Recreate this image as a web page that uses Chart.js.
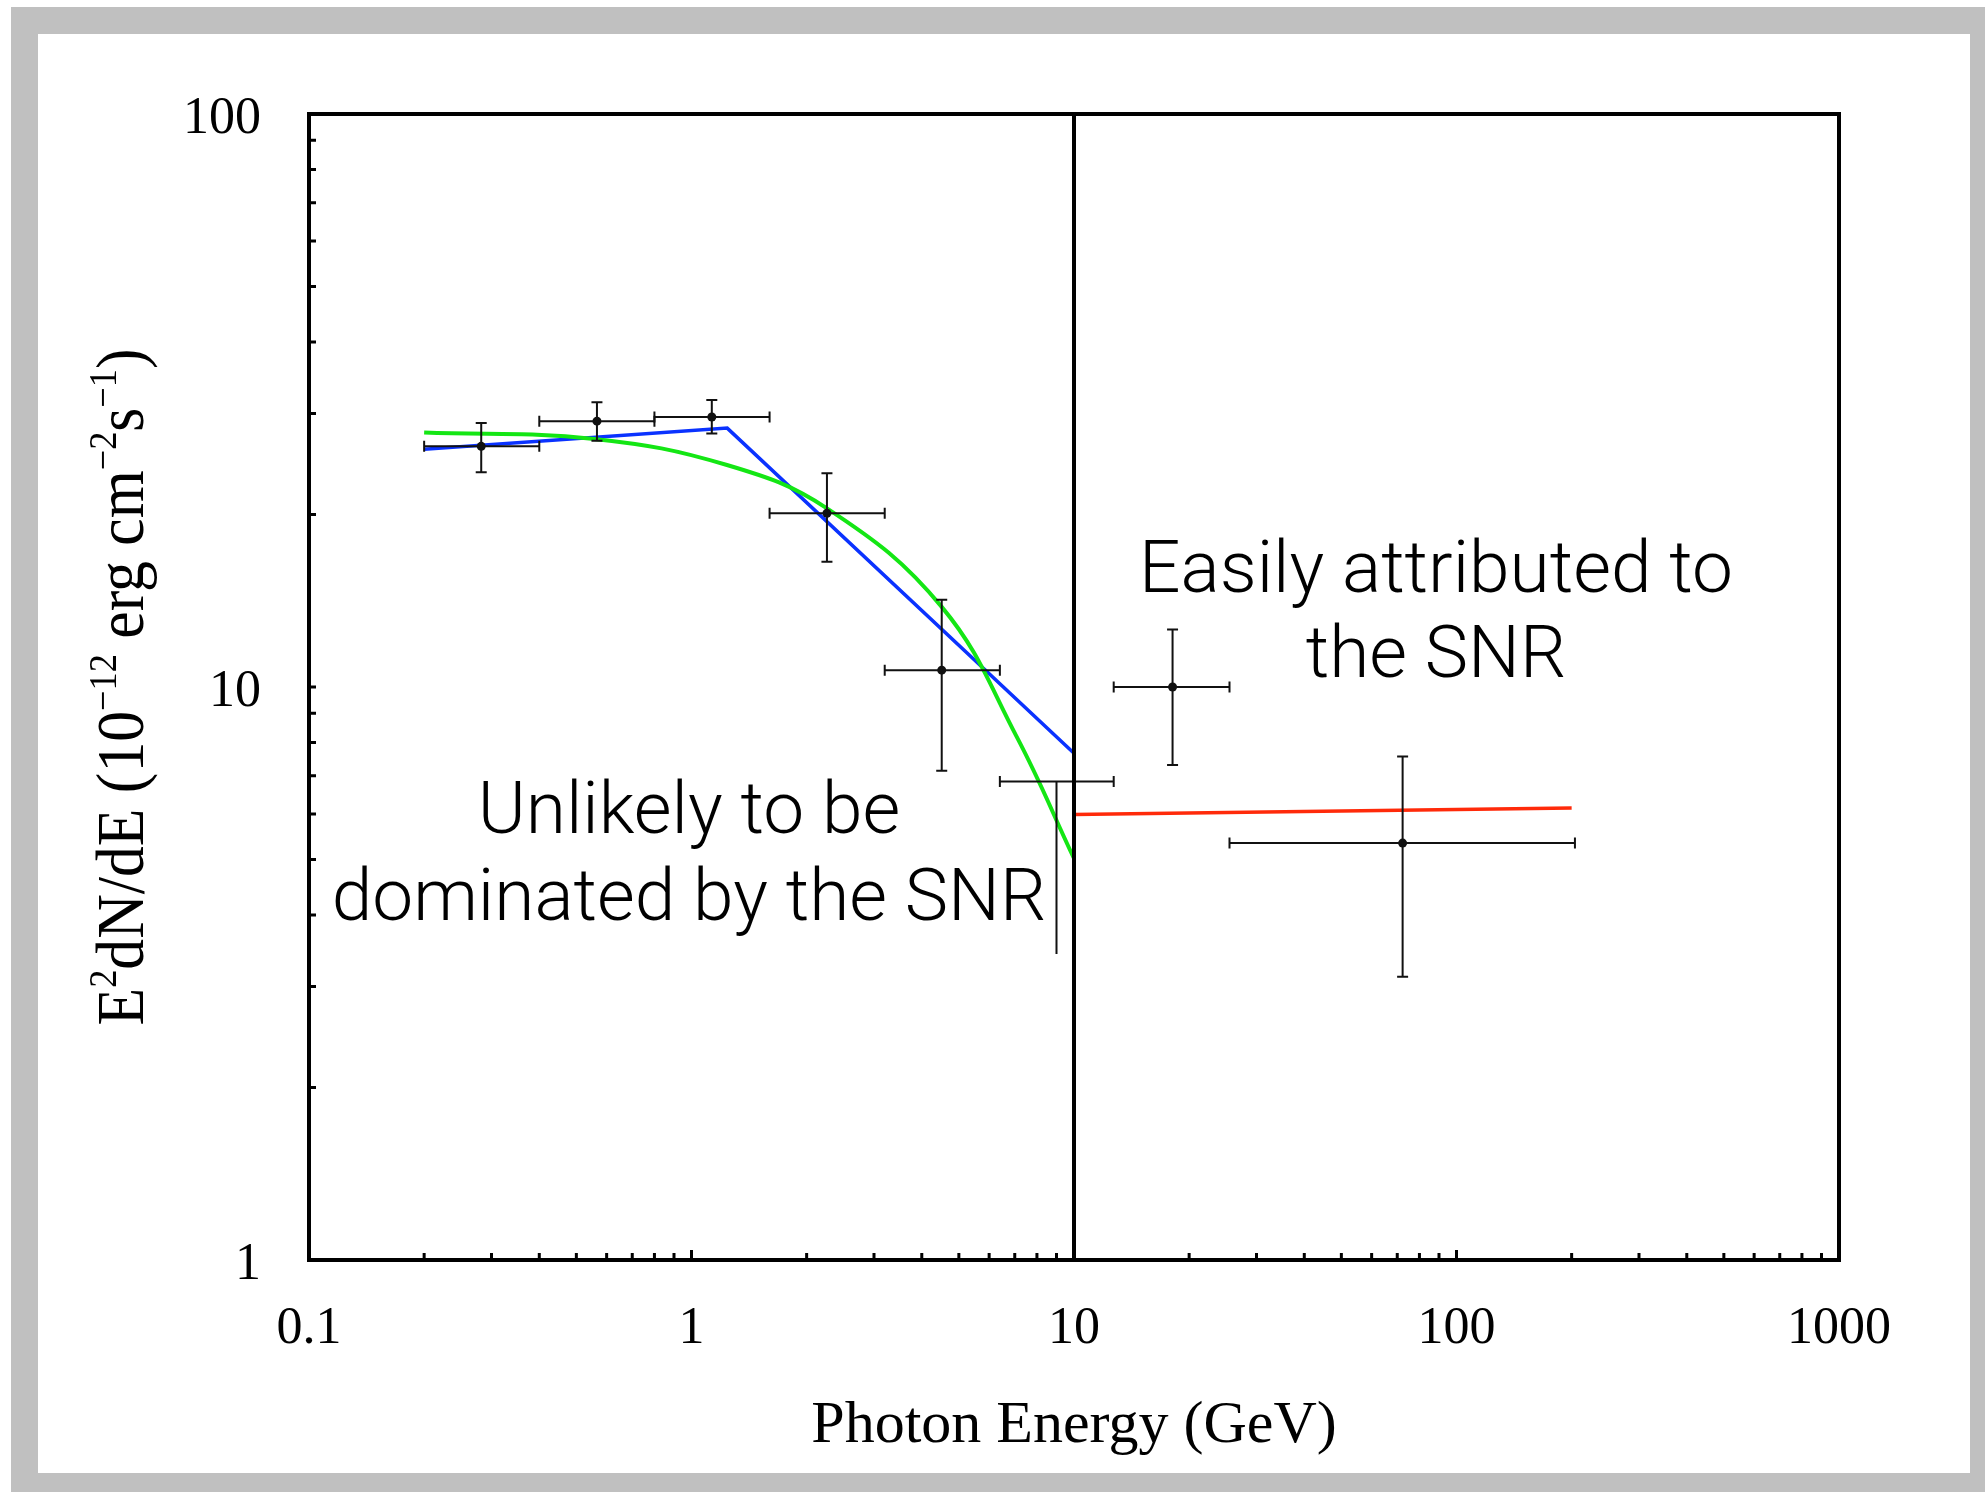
<!DOCTYPE html>
<html>
<head>
<meta charset="utf-8">
<title>Spectrum</title>
<script src="https://cdn.jsdelivr.net/npm/chart.js@4.4.1/dist/chart.umd.min.js"></script>
<style>
  html, body { margin: 0; padding: 0; background: #fff; }
  body { width: 1985px; height: 1492px; position: relative; overflow: hidden; }
  #frame { position: absolute; left: 11px; top: 7px; right: 0; bottom: 0; background: #c0c0c0; }
  #panel { position: absolute; left: 38px; top: 34px; width: 1932px; height: 1439px; background: #fff; }
  canvas { display: block; }
</style>
</head>
<body>
<div id="frame"></div>
<div id="panel"><canvas id="spectrum" width="1932" height="1439"></canvas></div>
<script>
// Fermi-LAT style SED points (GeV, 1e-12 erg cm^-2 s^-1)
const pointE = [0.282, 0.566, 1.13, 2.26, 4.51, 9.0, 18.1, 72.3];
const pointF = [26.3, 29.1, 29.6, 20.1, 10.7, 6.84, 10.0, 5.34];
const eLow   = [0.2, 0.4, 0.8, 1.6, 3.2, 6.4, 12.7, 25.5];
const eHigh  = [0.4, 0.8, 1.6, 3.2, 6.4, 12.7, 25.5, 204];
const fLow   = [23.7, 26.9, 27.7, 16.55, 7.14, 3.42, 7.31, 3.12];
const fHigh  = [28.9, 31.4, 31.7, 23.6, 14.2, 6.84, 12.6, 7.56];
// last-but-two bin: no marker, no upper error
const isLimit = [false, false, false, false, false, true, false, false];

// broken power law (blue)
const brokenE = [0.2, 1.24, 10];
const brokenF = [26.0, 28.3, 7.66];

// curved model (green)
const curvedE = [0.2, 0.557, 1.238, 2.26, 4.51, 7.08, 10];
const curvedF = [27.8, 27.1, 24.4, 20.5, 13.8, 8.19, 5.02];

// high-energy power law (red)
const highE = [10, 200];
const highF = [5.99, 6.15];

const xTickValues = [0.1, 1, 10, 100, 1000];
const xTickLabels = ["0.1", "1", "10", "100", "1000"];
const yTickValues = [1, 10, 100];
const yTickLabels = ["1", "10", "100"];

const splitE = 10;
const lowNote = ["Unlikely to be", "dominated by the SNR"];
const highNote = ["Easily attributed to", "the SNR"];

const serif = "'Liberation Serif', 'Times New Roman', serif";
const sans = "Roboto, 'Open Sans', Lato, sans-serif";

const xy = (xs, ys) => xs.map((v, i) => ({ x: v, y: ys[i] }));

function minorValues(min, max) {
    const out = [];
    for (let d = min; d < max; d *= 10) {
        for (let m = 1; m < 10; m++) out.push({ v: +(m * d).toPrecision(3), major: m === 1 });
    }
    return out;
}

const errorBars = {
    id: "errorBars",
    afterDatasetsDraw(chart) {
        const { ctx, scales: { x, y } } = chart;
        const cap = 5.5;
        ctx.save();
        ctx.strokeStyle = "#111";
        ctx.lineWidth = 2;
        pointE.forEach((e, i) => {
            const px = x.getPixelForValue(e);
            const py = y.getPixelForValue(pointF[i]);
            const xl = x.getPixelForValue(eLow[i]);
            const xh = x.getPixelForValue(eHigh[i]);
            const yl = y.getPixelForValue(fLow[i]);
            const yh = y.getPixelForValue(fHigh[i]);
            ctx.beginPath();
            ctx.moveTo(xl, py); ctx.lineTo(xh, py);
            ctx.moveTo(xl, py - cap); ctx.lineTo(xl, py + cap);
            ctx.moveTo(xh, py - cap); ctx.lineTo(xh, py + cap);
            ctx.moveTo(px, yh); ctx.lineTo(px, yl);
            if (!isLimit[i]) {
                ctx.moveTo(px - cap, yh); ctx.lineTo(px + cap, yh);
                ctx.moveTo(px - cap, yl); ctx.lineTo(px + cap, yl);
            }
            ctx.stroke();
        });
        ctx.restore();
    }
};

const frameAndNotes = {
    id: "frameAndNotes",
    afterDraw(chart) {
        const { ctx, chartArea: a, scales: { x, y } } = chart;
        ctx.save();

        // divider at 10 GeV
        const xs = x.getPixelForValue(splitE);
        ctx.strokeStyle = "#000";
        ctx.lineWidth = 4;
        ctx.beginPath();
        ctx.moveTo(xs, a.top); ctx.lineTo(xs, a.bottom);
        ctx.stroke();

        // box
        ctx.strokeRect(a.left, a.top, a.right - a.left, a.bottom - a.top);

        // inward minor ticks, bottom and left only
        ctx.lineWidth = 3;
        ctx.beginPath();
        minorValues(0.1, 1000).forEach(t => {
            if (t.v <= 0.1) return;
            const px = x.getPixelForValue(t.v);
            ctx.moveTo(px, a.bottom);
            ctx.lineTo(px, a.bottom - (t.major ? 10 : 7));
        });
        minorValues(1, 100).forEach(t => {
            if (t.v <= 1) return;
            const py = y.getPixelForValue(t.v);
            ctx.moveTo(a.left, py);
            ctx.lineTo(a.left + 7, py);
        });
        ctx.stroke();

        // region notes
        ctx.fillStyle = "#000";
        ctx.textAlign = "center";
        ctx.textBaseline = "alphabetic";
        ctx.font = "300 73px " + sans;
        ctx.fillText(lowNote[0], 651, 799);
        ctx.fillText(lowNote[1], 651, 886);
        ctx.fillText(highNote[0], 1398, 558);
        ctx.fillText(highNote[1], 1398, 643);

        // y axis title with superscripts
        const parts = [["E", 0], ["2", 1], ["dN/dE (10", 0], ["\u221212", 1], [" erg cm", 0],
                       ["\u22122", 1], ["s", 0], ["\u22121", 1], [")", 0]];
        const big = "68px " + serif, small = "40px " + serif;
        let total = 0;
        parts.forEach(p => { ctx.font = p[1] ? small : big; total += ctx.measureText(p[0]).width; });
        const sx = 677 / total;
        ctx.translate(105, (a.top + a.bottom) / 2);
        ctx.rotate(-Math.PI / 2);
        ctx.scale(sx, 1);
        ctx.textAlign = "left";
        let cx = -total / 2;
        parts.forEach(p => {
            ctx.font = p[1] ? small : big;
            ctx.fillText(p[0], cx, p[1] ? -27 : 0);
            cx += ctx.measureText(p[0]).width;
        });
        ctx.restore();
    }
};

new Chart(document.getElementById("spectrum"), {
    type: "scatter",
    data: {
        datasets: [
            {
                label: "Data",
                data: xy(pointE, pointF),
                showLine: false,
                pointRadius: isLimit.map(l => (l ? 0 : 4.5)),
                pointBackgroundColor: "#111",
                pointBorderWidth: 0,
                order: 0,
            },
            {
                label: "Curved",
                data: xy(curvedE, curvedF),
                showLine: true,
                borderColor: "#14e614",
                borderWidth: 4,
                pointRadius: 0,
                tension: 0.4,
                order: 1,
            },
            {
                label: "Broken power law",
                data: xy(brokenE, brokenF),
                showLine: true,
                borderColor: "#0a32ff",
                borderWidth: 3.5,
                pointRadius: 0,
                tension: 0,
                order: 2,
            },
            {
                label: "Power law",
                data: xy(highE, highF),
                showLine: true,
                borderColor: "#ff2a0a",
                borderWidth: 3.5,
                pointRadius: 0,
                tension: 0,
                order: 2,
            },
        ],
    },
    options: {
        responsive: false,
        animation: false,
        layout: { padding: { top: 80, right: 131, left: 0, bottom: 0 } },
        plugins: {
            legend: { display: false },
            tooltip: { enabled: false },
        },
        scales: {
            x: {
                type: "logarithmic",
                position: "bottom",
                min: 0.1,
                max: 1000,
                afterBuildTicks: s => { s.ticks = xTickValues.map(v => ({ value: v })); },
                afterFit: s => { s.height = 213; },
                grid: { display: false },
                border: { display: false },
                ticks: {
                    autoSkip: false,
                    maxRotation: 0,
                    padding: 30,
                    color: "#000",
                    font: { family: serif, size: 52 },
                    callback: (v, i) => xTickLabels[i],
                },
                title: {
                    display: true,
                    text: "Photon Energy (GeV)",
                    color: "#000",
                    font: { family: serif, size: 60 },
                    padding: { top: 0, bottom: 11 },
                },
            },
            y: {
                type: "logarithmic",
                min: 1,
                max: 100,
                afterBuildTicks: s => { s.ticks = yTickValues.map(v => ({ value: v })); },
                afterFit: s => { s.width = 271; },
                grid: { display: false },
                border: { display: false },
                ticks: {
                    padding: 40,
                    labelOffset: 5,
                    color: "#000",
                    font: { family: serif, size: 52 },
                    callback: (v, i) => yTickLabels[i],
                },
            },
        },
    },
    plugins: [errorBars, frameAndNotes],
});
</script>
</body>
</html>
